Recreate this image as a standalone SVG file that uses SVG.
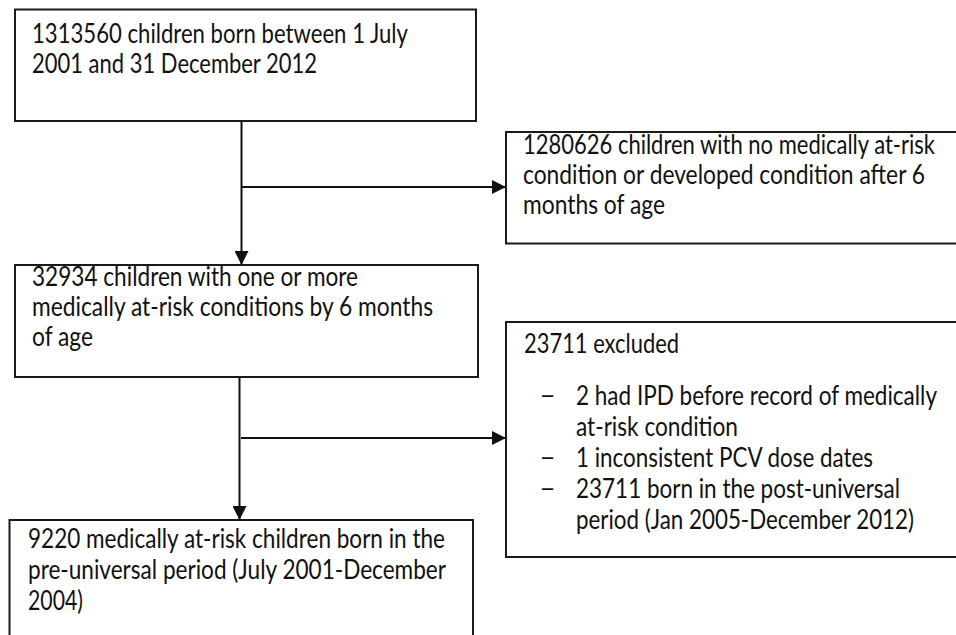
<svg xmlns="http://www.w3.org/2000/svg" width="956" height="635" viewBox="0 0 956 635">
<style>
.box{fill:#fff;stroke:#1a1a1a;stroke-width:2}
.t{font-family:Lato,"Open Sans","Liberation Sans",sans-serif;font-size:26px;fill:#111}
.c{stroke:#111;stroke-width:2;fill:none}
</style>
<defs>
<marker id="ah" viewBox="0 0 14 14" refX="14" refY="7" markerWidth="14" markerHeight="14" markerUnits="userSpaceOnUse" orient="auto">
<path d="M0,0 L14,7 L0,14 Z" fill="#111"/>
</marker>
</defs>
<rect width="956" height="635" fill="#fff"/>
<g id="n1">
<rect class="box" x="15" y="9.5" width="461" height="111.5"/>
<text class="t" x="32" y="43" textLength="376" lengthAdjust="spacingAndGlyphs">1313560 children born between 1 July</text>
<text class="t" x="32" y="73" textLength="285" lengthAdjust="spacingAndGlyphs">2001 and 31 December 2012</text>
</g>
<g id="n2">
<rect class="box" x="506" y="132" width="460" height="111.5"/>
<text class="t" x="523" y="153.5" textLength="412" lengthAdjust="spacingAndGlyphs">1280626 children with no medically at-risk</text>
<text class="t" x="523" y="183.5" textLength="402" lengthAdjust="spacingAndGlyphs">condition or developed condition after 6</text>
<text class="t" x="523" y="213.5" textLength="142" lengthAdjust="spacingAndGlyphs">months of age</text>
</g>
<g id="n3">
<rect class="box" x="15" y="265" width="463" height="112"/>
<text class="t" x="32" y="286" textLength="326" lengthAdjust="spacingAndGlyphs">32934 children with one or more</text>
<text class="t" x="32" y="316" textLength="401" lengthAdjust="spacingAndGlyphs">medically at-risk conditions by 6 months</text>
<text class="t" x="32" y="346" textLength="61" lengthAdjust="spacingAndGlyphs">of age</text>
</g>
<g id="n4">
<rect class="box" x="506" y="322" width="460" height="235"/>
<text class="t" x="524" y="353" textLength="155" lengthAdjust="spacingAndGlyphs">23711 excluded</text>
<text class="t" x="540" y="405">−</text>
<text class="t" x="576" y="405" textLength="361" lengthAdjust="spacingAndGlyphs">2 had IPD before record of medically</text>
<text class="t" x="576" y="436" textLength="162" lengthAdjust="spacingAndGlyphs">at-risk condition</text>
<text class="t" x="540" y="467">−</text>
<text class="t" x="576" y="467" textLength="297" lengthAdjust="spacingAndGlyphs">1 inconsistent PCV dose dates</text>
<text class="t" x="540" y="498">−</text>
<text class="t" x="576" y="498" textLength="324" lengthAdjust="spacingAndGlyphs">23711 born in the post-universal</text>
<text class="t" x="576" y="529" textLength="338" lengthAdjust="spacingAndGlyphs">period (Jan 2005-December 2012)</text>
</g>
<g id="n5">
<rect class="box" x="9.5" y="520" width="463.5" height="130"/>
<text class="t" x="28" y="548" textLength="417" lengthAdjust="spacingAndGlyphs">9220 medically at-risk children born in the</text>
<text class="t" x="28" y="579" textLength="418" lengthAdjust="spacingAndGlyphs">pre-universal period (July 2001-December</text>
<text class="t" x="28" y="610" textLength="55" lengthAdjust="spacingAndGlyphs">2004)</text>
</g>
<g id="connectors">
<line class="c" x1="241.5" y1="121" x2="241.5" y2="265" marker-end="url(#ah)"/>
<line class="c" x1="242" y1="187" x2="506" y2="187" marker-end="url(#ah)"/>
<line class="c" x1="239.5" y1="377" x2="239.5" y2="520" marker-end="url(#ah)"/>
<line class="c" x1="241" y1="438" x2="506" y2="438" marker-end="url(#ah)"/>
</g>
</svg>
